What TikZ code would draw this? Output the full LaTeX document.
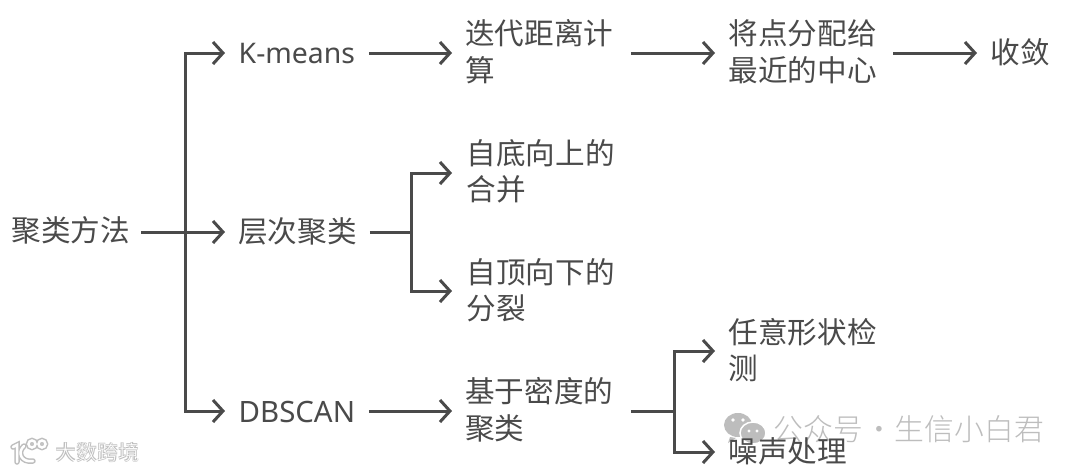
\documentclass[tikz,border=0pt]{standalone}
\usepackage{fontspec}
\setmainfont{Noto Sans CJK SC}
\newfontfamily\latinf{Noto Sans}
\newfontfamily\lightf{Noto Sans CJK SC Light}
\usetikzlibrary{arrows.meta}
\definecolor{ink}{HTML}{4A4A4A}
\definecolor{wm}{HTML}{BDBDBD}
\definecolor{wmd}{HTML}{BEBEBE}
\tikzset{
 lbl/.style={anchor=west,text=ink,font=\fontsize{29.6}{36.5}\selectfont,inner ysep=0pt,inner xsep=14pt,align=left},
 conn/.style={draw=ink,line width=3pt,-{Straight Barb[length=10pt,width=22pt,line width=3pt]},line join=miter},
 plain/.style={draw=ink,line width=3pt},
}
\begin{document}
\begin{tikzpicture}[x=1pt,y=-1pt]
\useasboundingbox[fill=white] (0,0) rectangle (1077,472);
% watermarks
\node[anchor=west,inner sep=0,text=wm,font=\lightf\fontsize{29.8}{30}\selectfont] (wm1) at (773.5,429) {公众号\hspace{1pt}·\hspace{1pt}生信小白君};
\fill[wm] (738,425) ellipse (14 and 12);
\fill[wm] (730,437) -- (728,443) -- (736,438) -- cycle;
\fill[wm,draw=white,line width=1.5pt] (753,433) ellipse (13 and 11);
\fill[white] (733,420) circle (1.8) (743,420) circle (1.8) (749,431) circle (1.6) (757,431) circle (1.6);
\foreach \w/\c in {5.5/wmd,2.5/white}{
 \draw[\c,line width=\w pt,line cap=round] (13,447) -- (17,445) -- (17,462);
 \draw[\c,line width=\w pt,line cap=round] (24,446) .. controls (17,452) and (21,463) .. (33,461);
 \draw[\c,line width=\w pt] (32,444) circle (3.5) (42,444) circle (3.5);
}
\node[anchor=west,inner sep=0,text=wmd,font=\bfseries\fontsize{21}{22}\selectfont] (wm2s) at (55,452) {大数跨境};
\node[anchor=west,inner sep=0,text=white,font=\lightf\fontsize{21}{22}\selectfont] (wm2) at (55,452) {大数跨境};
% nodes
\node[lbl,inner xsep=0pt] (root) at (11.5,230) {聚类方法};
\node[lbl,inner xsep=13.5pt,font=\latinf\fontsize{28.4}{33}\selectfont] (km) at (225,53.5) {K-means};
\node[lbl,text width=152.5pt,inner xsep=13pt] (iter) at (452,51.5) {迭代距离计\\算};
\node[lbl,text width=151pt,inner xsep=13.5pt] (assign) at (715,51.5) {将点分配给\\最近的中心};
\node[lbl,inner xsep=13.5pt] (conv) at (977,52) {收敛};
\node[lbl,inner xsep=13pt] (hier) at (225,231) {层次聚类};
\node[lbl,inner xsep=14.5pt,text width=148pt] (bottom) at (452,171.5) {自底向上的\\合并};
\node[lbl,inner xsep=14.5pt,text width=148pt] (top) at (452,290) {自顶向下的\\分裂};
\node[lbl,inner xsep=13.5pt,font=\latinf\fontsize{29.4}{33}\selectfont] (db) at (225,412) {DBSCAN};
\node[lbl,text width=152.5pt,inner xsep=13pt] (dense) at (452,409.5) {基于密度的\\聚类};
\node[lbl,text width=148pt,inner xsep=13.5pt] (arb) at (715,350) {任意形状检\\测};
\node[lbl,inner xsep=13.5pt] (noise) at (715,451.5) {噪声处理};
% rails: the y of each connector
\coordinate (rowA) at (0,53);
\coordinate (rowB) at (0,232);
\coordinate (rowC) at (0,411);
\coordinate (rowH) at (0,173);
\coordinate (rowT) at (0,291);
\coordinate (rowR) at (0,351);
\coordinate (rowN) at (0,452);
% junctions
\coordinate (j0) at (185,232);
\coordinate (j1) at (411,232);
\coordinate (j2) at (674,411);
\coordinate (r0) at (141,232);
% connectors
\draw[plain] (r0) -- (j0);
\draw[conn] (j0) |- (km.west |- rowA);
\draw[conn] (j0) -- (hier.west |- rowB);
\draw[conn] (j0) |- (db.west |- rowC);
\draw[conn] (km.east |- rowA) -- (iter.west |- rowA);
\draw[conn] (iter.east |- rowA) -- (assign.west |- rowA);
\draw[conn] (assign.east |- rowA) -- (conv.west |- rowA);
\draw[plain] (hier.east |- rowB) -- (j1);
\draw[conn] (j1) |- (bottom.west |- rowH);
\draw[conn] (j1) |- (top.west |- rowT);
\draw[conn] (db.east |- rowC) -- (dense.west |- rowC);
\draw[plain] (dense.east |- rowC) -- (j2);
\draw[conn] (j2) |- (arb.west |- rowR);
\draw[conn] (j2) |- (noise.west |- rowN);
\end{tikzpicture}
\end{document}
